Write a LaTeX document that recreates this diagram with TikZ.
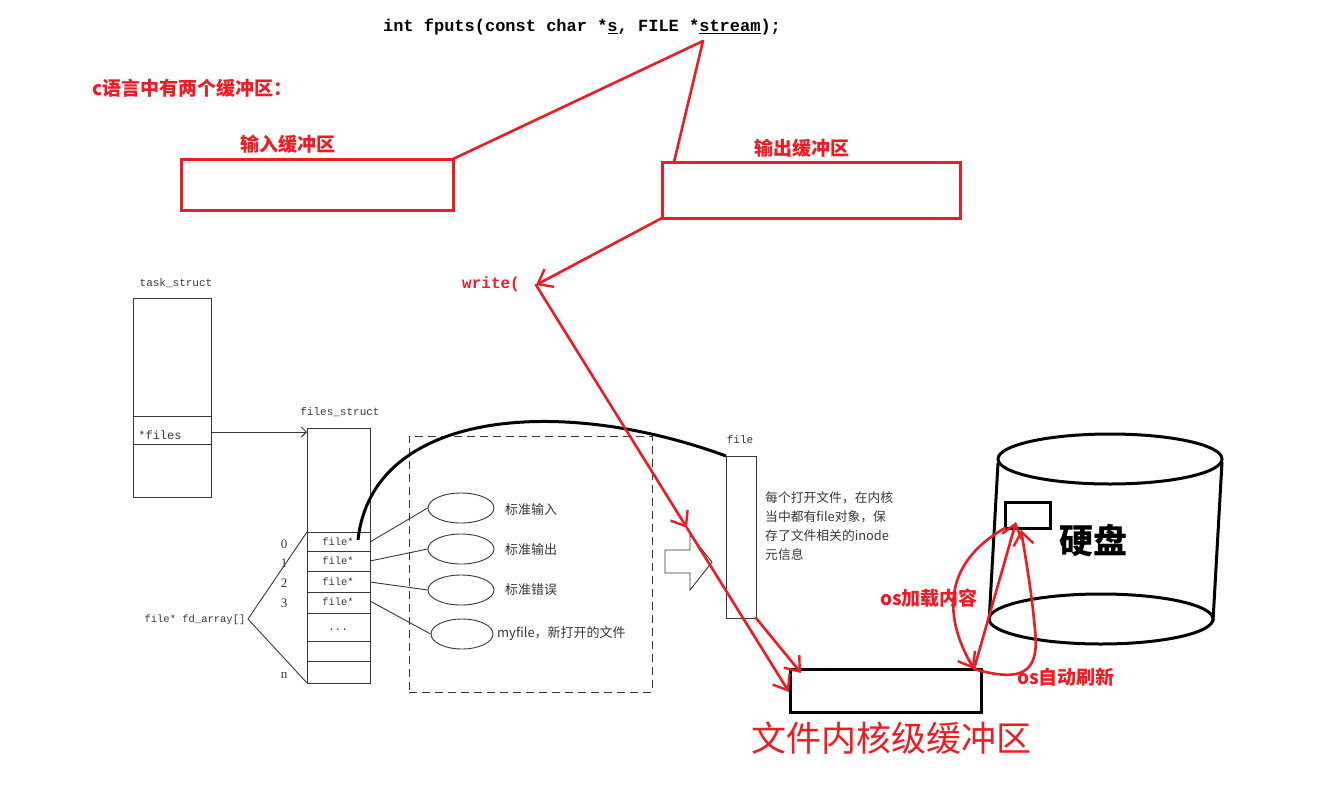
\documentclass[tikz,border=0pt]{standalone}
\usepackage{fontspec}
\setmainfont{Liberation Serif}
\setmonofont{Liberation Mono}
\newfontfamily\cjk{Noto Sans CJK SC}
\usetikzlibrary{arrows.meta,shapes.geometric,calc}
\definecolor{myred}{RGB}{236,28,36}
\definecolor{gr}{RGB}{55,55,55}
\tikzset{
  gline/.style={draw=gr,line width=0.9pt},
  rline/.style={draw=myred,line width=2.6pt,line cap=round},
  kline/.style={draw=black,line width=3pt},
  rtip/.style={-{Straight Barb[length=13pt,width=20pt,line width=2.4pt]}},
  gbox/.style={gline,inner sep=0pt,outer sep=0pt,anchor=north west},
  rbox/.style={draw=myred,line width=3pt,inner sep=0pt,outer sep=0pt,anchor=north west},
  kbox/.style={draw=black,line width=3pt,inner sep=0pt,outer sep=0pt,anchor=north west},
  glab/.style={text=gr,font=\ttfamily\fontsize{11}{12}\selectfont,inner sep=0pt},
  clab/.style={text=gr,font=\cjk\fontsize{13}{15}\selectfont,inner sep=0pt,anchor=west},
  rlab/.style={text=myred,font=\cjk\bfseries\fontsize{19}{21}\selectfont,inner sep=0pt},
  ell/.style={gline,ellipse,minimum width=66pt,minimum height=30pt,inner sep=0pt},
}
\begin{document}
\begin{tikzpicture}[x=1pt,y=-1pt]
\useasboundingbox[fill=white] (0,0) rectangle (1329,795);

% title
\node[font=\ttfamily\bfseries\fontsize{17}{20}\selectfont,inner sep=0pt] (title) at (582,27)
  {int fputs(const char *\underline{s}, FILE *\underline{stream});};
\coordinate (st) at (703,41);

\node[rlab,anchor=west] (ctwo) at (92,88) {c语言中有两个缓冲区：};
\node[rlab] (inlab) at (288,144) {输入缓冲区};
\node[rlab] (outlab) at (802,148) {输出缓冲区};
\node[rbox,minimum width=272pt,minimum height=51pt] (inbuf) at (181,159) {};
\node[rbox,minimum width=298pt,minimum height=56pt] (outbuf) at (662,162) {};
\coordinate (outtop) at (674,162);

\draw[rline] (st) -- (inbuf.north east);
\draw[rline] (st) -- (outtop);

\node[text=myred,font=\ttfamily\bfseries\fontsize{16}{18}\selectfont,inner sep=0pt] (wr) at (491,284) {write(};
\coordinate (wt) at (536,285);
\draw[rline,rtip] (outbuf.south west) -- (wt);

% task_struct
\node[glab] (tsl) at (176,283) {task\_struct};
\node[gbox,minimum width=78pt,minimum height=199pt] (ts) at (133,298) {};
\draw[gline] ($(ts.north west)+(0,118)$) -- ($(ts.north east)+(0,118)$);
\draw[gline] ($(ts.north west)+(0,146)$) -- ($(ts.north east)+(0,146)$);
\node[glab,font=\ttfamily\fontsize{12}{12}\selectfont] (tsf) at (160,435) {*files};

% files_struct
\node[glab] (fsl) at (340,412) {files\_struct};
\node[gbox,minimum width=63pt,minimum height=255pt] (fs) at (307,428) {};
\foreach \yy in {532,551,571,592,613,641,661} \draw[gline] (307,\yy) -- (370,\yy);
\coordinate (a1) at (211,432);
\coordinate (a2) at (307,432);
\draw[gline,-{Straight Barb[length=5pt,width=10pt]}] (a1) -- (a2);
\node[glab,font=\ttfamily\fontsize{10.5}{12}\selectfont] (f0) at (338,542) {file*};
\node[glab,font=\ttfamily\fontsize{10.5}{12}\selectfont] (f1) at (338,561) {file*};
\node[glab,font=\ttfamily\fontsize{10.5}{12}\selectfont] (f2) at (338,582) {file*};
\node[glab,font=\ttfamily\fontsize{10.5}{12}\selectfont] (f3) at (338,602) {file*};
\node[glab] (fdots) at (338,630) {...};
\node[glab,font=\rmfamily\fontsize{13}{14}\selectfont] (n0) at (284,544) {0};
\node[glab,font=\rmfamily\fontsize{13}{14}\selectfont] (n1) at (284,563) {1};
\node[glab,font=\rmfamily\fontsize{13}{14}\selectfont] (n2) at (284,583) {2};
\node[glab,font=\rmfamily\fontsize{13}{14}\selectfont] (n3) at (284,603) {3};
\node[glab,font=\rmfamily\fontsize{13}{14}\selectfont] (nn) at (284,675) {n};
\node[glab,font=\ttfamily\fontsize{10.5}{12}\selectfont] (fda) at (195,620) {file* fd\_array[]};
\coordinate (fa) at (248,619);
\coordinate (row0) at (307,532);
\draw[gline] (fa) -- (row0);
\draw[gline] (fa) -- (fs.south west);

% dashed region
\node[gbox,dash pattern=on 8pt off 5pt,minimum width=243pt,minimum height=256pt] (dreg) at (409,436) {};
\node[ell] (e1) at (461,508) {};
\node[ell] (e2) at (461,549) {};
\node[ell] (e3) at (461,590) {};
\node[ell,minimum width=62pt] (e4) at (462,634) {};
\node[clab] (t1) at (505,510) {标准输入};
\node[clab] (t2) at (505,550) {标准输出};
\node[clab] (t3) at (505,590) {标准错误};
\node[clab] (t4) at (497,634) {myfile，新打开的文件};
\coordinate (r0) at (370,542);
\coordinate (r1) at (370,561);
\coordinate (r2) at (370,582);
\coordinate (r3) at (370,601);
\draw[gline] (r0) -- (e1.west);
\draw[gline] (r1) -- (e2.west);
\draw[gline] (r2) -- (e3.west);
\draw[gline] (r3) -- (e4.west);

% file object
\node[glab] (fbl) at (740,440) {file};
\node[gbox,minimum width=30pt,minimum height=162pt] (fb) at (726,456) {};
\node[text=gr,font=\cjk\fontsize{12.8}{19}\selectfont,inner sep=0pt,anchor=north west,align=left] (fbt) at (765,491)
  {每个打开文件，在内核\\当中都有file对象，保\\存了文件相关的inode\\元信息};
\coordinate (c0) at (358,540);
\draw[kline] (c0) .. controls (372,410) and (560,395) .. (fb.north west);

% hollow block arrow
\draw[gline] (665,550) -- (690,550) -- (690,535) -- (712,562) -- (690,590) -- (690,573) -- (665,573) -- cycle;

% kernel buffer
\node[kbox,minimum width=191pt,minimum height=43pt] (kb) at (790,669) {};
\node[text=myred,font=\cjk\fontsize{35}{38}\selectfont,inner sep=0pt] (kbl) at (891,738) {文件内核级缓冲区};

\coordinate (mid) at (687,528);
\coordinate (kbtip) at (789,692);
\coordinate (kbtip2) at (801,673);
\draw[rline,rtip] (wt) -- (mid);
\draw[rline,rtip] (mid) -- (kbtip);
\draw[rline,rtip] (fb.south east) -- (kbtip2);

% disk
\draw[kline] (1110,459) ellipse [x radius=112, y radius=25];
\draw[kline] (1101,619) ellipse [x radius=112, y radius=25];
\draw[kline] (998,463) -- (989,622);
\draw[kline] (1222,462) -- (1213,621);
\node[kbox,minimum width=45pt,minimum height=26pt] (dr) at (1005,502) {};
\node[font=\cjk\bfseries\fontsize{34}{37}\selectfont,inner sep=0pt] (disk) at (1093,540) {硬盘};

\coordinate (corner) at (974,669);
\coordinate (dtip) at (1016,522);
\coordinate (dtip2) at (1021,530);
\draw[rline,rtip] (dr.south west) .. controls (940,565) and (945,620) .. (corner);
\draw[rline,rtip] (corner) -- (dtip);
\draw[rline,rtip] (corner) .. controls (1020,682) and (1040,675) .. (1035,630) .. controls (1032,595) and (1026,560) .. (dtip2);

\node[rlab] (osload) at (929,598) {os加载内容};
\node[rlab] (osflush) at (1066,677) {os自动刷新};
\end{tikzpicture}
\end{document}
